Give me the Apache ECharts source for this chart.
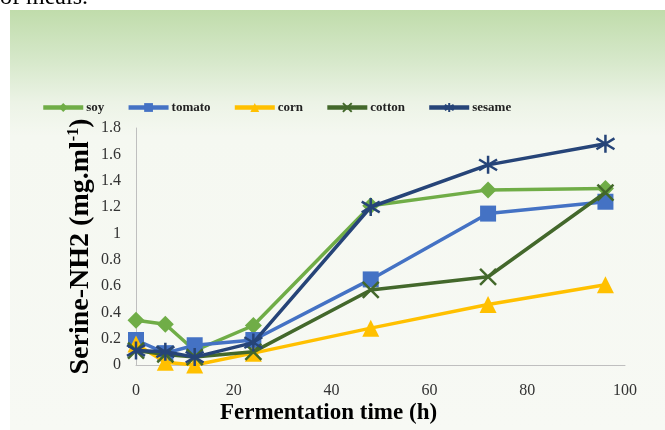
<!DOCTYPE html>
<html>
<head>
<meta charset="utf-8">
<script src="https://cdn.jsdelivr.net/npm/echarts@6/dist/echarts.min.js"></script>
<style>html,body{margin:0;padding:0;background:#fff;}#c{width:665px;height:430px;}</style>
</head>
<body>
<div id="c"></div>
<script>
const hours = [0, 6, 12, 24, 48, 72, 96];
const soy    = [0.34, 0.31, 0.11, 0.30, 1.21, 1.33, 1.34];
const tomato = [0.19, 0.09, 0.15, 0.19, 0.65, 1.15, 1.24];
const corn   = [0.16, 0.02, 0.00, 0.09, 0.28, 0.46, 0.61];
const cotton = [0.11, 0.08, 0.06, 0.10, 0.57, 0.67, 1.31];
const sesame = [0.11, 0.10, 0.06, 0.17, 1.20, 1.52, 1.68];
const seriesNames = ['soy', 'tomato', 'corn', 'cotton', 'sesame'];
const xTicks = [0, 20, 40, 60, 80, 100];
const yTicks = [0, 0.2, 0.4, 0.6, 0.8, 1, 1.2, 1.4, 1.6, 1.8];

const pair = arr => hours.map((h, i) => [h, arr[i]]);
const SERIF = '"Liberation Serif", "Times New Roman", serif';
const xPath = 'path://M0 0L10 10M10 0L0 10';
const starPath = 'path://M5 0L5 10M0 2L10 8M0 8L10 2';

const colors = ['#70ad47', '#4472c4', '#ffc000', '#43682b', '#264478'];
const values = [soy, tomato, corn, cotton, sesame];
const symbols = ['diamond', 'rect', 'triangle', xPath, starPath];
const sizes = [17, 16, 17, 16, 18];

const chart = echarts.init(document.getElementById('c'), null, {renderer: 'canvas'});
chart.setOption({
  backgroundColor: '#ffffff',
  animation: false,
  color: colors,
  graphic: [
    {type: 'text', left: 0, top: -14, style: {text: 'of meals.', font: '24px "Liberation Serif"', fill: '#000'}},
    {type: 'rect', shape: {x: 10, y: 10, width: 655, height: 420},
     style: {fill: {type: 'linear', x: 0, y: 0, x2: 0, y2: 1, colorStops: [
       {offset: 0, color: '#c0dcab'}, {offset: 0.12, color: '#d6e8ca'},
       {offset: 0.22, color: '#ecf3e6'}, {offset: 0.3, color: '#f5f8f1'}, {offset: 1, color: '#f7f9f4'}]}},
     z: -10}
  ],
  legend: {
    data: seriesNames,
    top: 96, left: 36,
    itemWidth: 40, itemHeight: 11, itemGap: 22,
    lineStyle: {width: 4.5},
    textStyle: {fontFamily: SERIF, fontWeight: 'bold', fontSize: 13, color: '#222', padding: [0, 0, 0, -2]}
  },
  grid: {left: 136, right: 40, top: 128, bottom: 65},
  xAxis: {
    type: 'value', min: 0, max: 100, interval: 20,
    name: 'Fermentation time (h)', nameLocation: 'middle', nameGap: 37, nameMoveOverlap: false,
    nameTextStyle: {fontFamily: SERIF, fontWeight: 'bold', fontSize: 23, color: '#000', padding: [0, 104, 0, 0]},
    axisLine: {lineStyle: {color: '#bfbfbf', width: 1}},
    axisTick: {show: false},
    splitLine: {show: false},
    axisLabel: {fontFamily: SERIF, fontSize: 16, color: '#333', margin: 18,
      formatter: v => xTicks.includes(v) ? String(v) : ''}
  },
  yAxis: {
    type: 'value', min: 0, max: 1.8, interval: 0.2,
    name: '{b|Serine-NH2 (mg.ml}{s|-1}{b|)}', nameLocation: 'middle', nameGap: 40, nameRotate: 90,
    nameMoveOverlap: false,
    nameTextStyle: {
      rich: {
        b: {fontFamily: SERIF, fontWeight: 'bold', fontSize: 28, color: '#000', lineHeight: 30},
        s: {fontFamily: SERIF, fontWeight: 'bold', fontSize: 16, color: '#000', verticalAlign: 'top', lineHeight: 30}
      }
    },
    axisLine: {show: true, lineStyle: {color: '#bfbfbf', width: 1}},
    axisTick: {show: false},
    splitLine: {show: false},
    axisLabel: {fontFamily: SERIF, fontSize: 16, color: '#333', margin: 15,
      formatter: v => { const t = yTicks.find(k => Math.abs(k - v) < 1e-9); return t === undefined ? '' : String(t); }}
  },
  series: seriesNames.map((n, i) => ({
    name: n, type: 'line',
    data: pair(values[i]),
    symbol: symbols[i], symbolSize: sizes[i],
    lineStyle: {width: 3.5, color: colors[i]},
    itemStyle: i >= 3 ? {color: colors[i], borderColor: colors[i], borderWidth: 2.5} : {color: colors[i]},
    z: 2 + i
  }))
});
</script>
</body>
</html>
